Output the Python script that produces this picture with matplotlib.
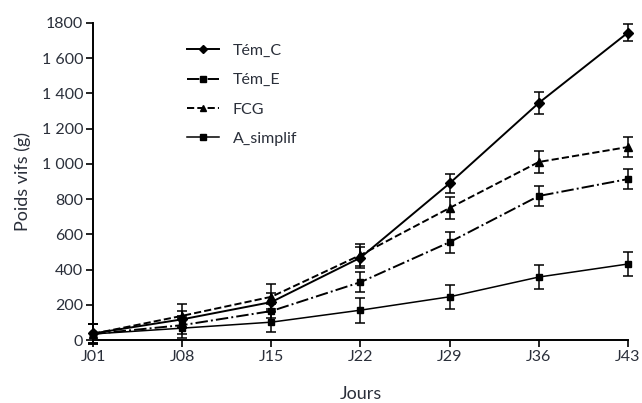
import matplotlib
matplotlib.use('Agg')
import matplotlib.pyplot as plt
import numpy as np

plt.rcParams['font.family'] = ['Lato', 'DejaVu Sans']

# data
jours = ['J01', 'J08', 'J15', 'J22', 'J29', 'J36', 'J43']
tem_c = [38, 118, 216, 468, 890, 1346, 1745]
tem_c_err = [55, 50, 50, 60, 55, 60, 50]
tem_e = [35, 85, 165, 329, 556, 818, 914]
tem_e_err = [55, 50, 40, 55, 60, 55, 55]
fcg = [36, 138, 246, 483, 750, 1011, 1096]
fcg_err = [55, 65, 70, 60, 60, 65, 57]
a_simplif = [35, 68, 102, 170, 246, 358, 432]
a_simplif_err = [55, 55, 55, 70, 68, 68, 68]

yticks = [0, 200, 400, 600, 800, 1000, 1200, 1400, 1600, 1800]
ytick_labels = ['0', '200', '400', '600', '800', '1 000', '1 200', '1 400', '1 600', '1800']

x = np.arange(len(jours))

fig = plt.figure(figsize=(6.42, 4.03), dpi=100)
ax = fig.add_axes([0.145, 0.156, 0.833, 0.787])

txt = '#2a2f3a'
common = dict(color='black', capsize=3.5, elinewidth=1.1, capthick=1.1, lw=1.4, clip_on=False)

c1 = ax.errorbar(x, tem_c, yerr=tem_c_err, fmt='-', marker='D', ms=5.5, label='Tém_C', **common)
c2 = ax.errorbar(x, tem_e, yerr=tem_e_err, fmt='-.', marker='s', ms=5, label='Tém_E', **common)
c3 = ax.errorbar(x, fcg, yerr=fcg_err, fmt='--', marker='^', ms=6, label='FCG', **common)
c4 = ax.errorbar(x, a_simplif, yerr=a_simplif_err, fmt='-', marker='s', ms=5, label='A_simplif',
                 **{**common, 'lw': 1.1})

ax.set_xlim(0, 6)
ax.set_ylim(0, 1800)
ax.set_xticks(x)
ax.set_xticklabels(jours)
ax.set_yticks(yticks)
ax.set_yticklabels(ytick_labels)

for s in ['top', 'right']:
    ax.spines[s].set_visible(False)
for s in ['left', 'bottom']:
    ax.spines[s].set_linewidth(1.4)
ax.tick_params(axis='both', direction='out', length=5, width=1.2, labelsize=11.5,
               labelcolor=txt, pad=2)

ax.set_xlabel('Jours', fontsize=13, color=txt, labelpad=16)
ax.set_ylabel('Poids vifs (g)', fontsize=13, color=txt, labelpad=8)

# legend without the error bars
handles = [c[0] for c in (c1, c2, c3, c4)]
ax.legend(handles, ['Tém_C', 'Tém_E', 'FCG', 'A_simplif'], loc='upper left',
          bbox_to_anchor=(0.148, 0.98), frameon=False, fontsize=11.5, markerscale=0.8,
          labelspacing=0.95, handlelength=2.0, handletextpad=0.9, labelcolor=txt)

plt.savefig('out.png', dpi=100)
